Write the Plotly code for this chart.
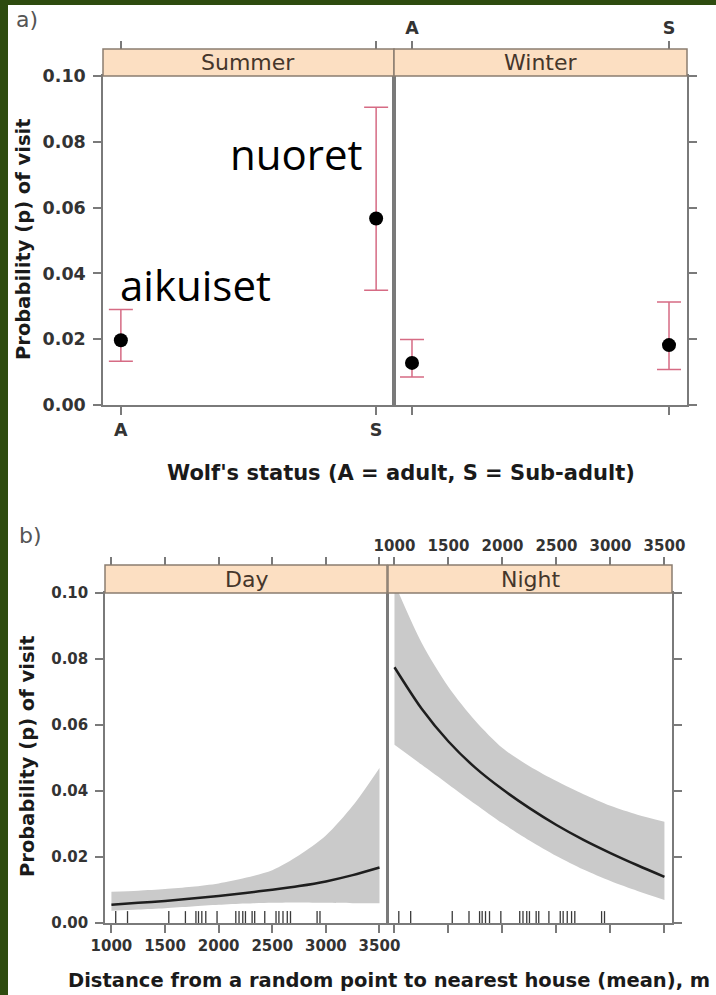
import plotly.graph_objects as go

W, H = 716, 995
def px(x): return x / W
def py(y): return 1 - y / H

# ---------------- data: panel a ----------------
status = ['A', 'S']
summer_p = [0.0197, 0.0567]
summer_lo = [0.0133, 0.0349]
summer_hi = [0.0290, 0.0905]
winter_p = [0.0128, 0.0182]
winter_lo = [0.0085, 0.0108]
winter_hi = [0.0199, 0.0313]

# ---------------- data: panel b ----------------
distance = [1000, 1250, 1500, 1750, 2000, 2250, 2500, 2750, 3000, 3250, 3500]
day_fit = [0.0055, 0.0061, 0.0067, 0.0074, 0.0082, 0.0091, 0.0101, 0.0112, 0.0126, 0.0145, 0.0168]
day_upper = [0.0095, 0.0098, 0.0103, 0.0110, 0.0120, 0.0137, 0.0160, 0.0205, 0.0265, 0.0355, 0.0470]
day_lower = [0.0037, 0.0041, 0.0045, 0.0050, 0.0055, 0.0059, 0.0061, 0.0062, 0.0061, 0.0060, 0.0060]
night_fit = [0.0775, 0.0650, 0.0550, 0.0470, 0.0405, 0.0348, 0.0297, 0.0252, 0.0212, 0.0175, 0.0140]
night_upper = [0.1030, 0.0850, 0.0715, 0.0612, 0.0530, 0.0475, 0.0430, 0.0390, 0.0355, 0.0328, 0.0307]
night_lower = [0.0540, 0.0480, 0.0420, 0.0360, 0.0302, 0.0250, 0.0203, 0.0162, 0.0127, 0.0097, 0.0070]
rug_distance = [1040, 1150, 1535, 1690, 1788, 1812, 1843, 1880, 1985, 2160, 2190, 2225,
                2250, 2312, 2336, 2430, 2535, 2562, 2600, 2640, 2670, 2918, 2945]
rug_height = [0.0, 0.0036]

prob_ticks = [0.00, 0.02, 0.04, 0.06, 0.08, 0.10]
dist_ticks = [1000, 1500, 2000, 2500, 3000, 3500]

# ---------------- styles ----------------
AX = '#7a7a7a'
ERR = '#d66b84'
BAND = '#cacaca'
FONT = 'DejaVu Sans'
tick_a = dict(family=FONT, size=17.5, color='#333333', weight='bold')
tick_b = dict(family=FONT, size=15, color='#333333', weight='bold')

fig = go.Figure()

def points(xa, ya, p, lo, hi):
    fig.add_trace(go.Scatter(
        x=status, y=p, xaxis=xa, yaxis=ya, mode='markers',
        marker=dict(size=14, color='black'),
        error_y=dict(type='data', symmetric=False,
                     array=[h - v for h, v in zip(hi, p)],
                     arrayminus=[v - l for v, l in zip(p, lo)],
                     color=ERR, thickness=1.5, width=12),
        showlegend=False, hoverinfo='x+y'))

points('x', 'y', summer_p, summer_lo, summer_hi)
points('x2', 'y2', winter_p, winter_lo, winter_hi)

def curve(xa, ya, fit, lo, hi):
    fig.add_trace(go.Scatter(
        x=distance, y=lo, xaxis=xa, yaxis=ya, mode='lines',
        line=dict(width=0, shape='spline', smoothing=0.8),
        showlegend=False, hoverinfo='skip'))
    fig.add_trace(go.Scatter(
        x=distance, y=hi, xaxis=xa, yaxis=ya, mode='lines', fill='tonexty',
        fillcolor=BAND, line=dict(width=0, shape='spline', smoothing=0.8),
        showlegend=False, hoverinfo='skip'))
    fig.add_trace(go.Scatter(
        x=distance, y=fit, xaxis=xa, yaxis=ya, mode='lines',
        line=dict(color='#1e1e1e', width=2.5, shape='spline', smoothing=0.8),
        showlegend=False))
    rx, ry = [], []
    for d in rug_distance:
        rx += [d, d, None]
        ry += [rug_height[0], rug_height[1], None]
    fig.add_trace(go.Scatter(
        x=rx, y=ry, xaxis=xa, yaxis=ya, mode='lines',
        line=dict(color='#3a3a3a', width=1.3), showlegend=False, hoverinfo='skip'))

curve('x3', 'y3', day_fit, day_lower, day_upper)
curve('x4', 'y4', night_fit, night_lower, night_upper)

# empty traces so the top overlay axes get drawn
for xa, ya, xs in [('x5', 'y', status), ('x6', 'y2', status),
                   ('x7', 'y3', dist_ticks[:2]), ('x8', 'y4', dist_ticks[:2])]:
    fig.add_trace(go.Scatter(x=xs, y=[None] * len(xs), xaxis=xa, yaxis=ya,
                             mode='markers', showlegend=False, hoverinfo='skip'))

common = dict(showgrid=False, zeroline=False, ticks='outside', ticklen=8,
              tickcolor=AX, tickwidth=1.5, linecolor=AX, linewidth=1.5, automargin=False)

a_dom_y = [py(405), py(76)]
b_dom_y = [py(923), py(593)]
cat_range = [-0.07, 1.07]
dist_range = [940, 3570]

layout = dict(
    width=W, height=H, margin=dict(l=0, r=0, t=0, b=0, pad=0, autoexpand=False),
    paper_bgcolor='white', plot_bgcolor='white',
    xaxis=dict(domain=[px(103), px(394)], anchor='y', type='category', range=cat_range,
               showline=True, mirror=True, tickfont=tick_a, **common),
    yaxis=dict(domain=a_dom_y, anchor='x', range=[0, 0.1], tickvals=prob_ticks,
               tickformat='.2f', showline=True, mirror=True, tickfont=tick_a,
               ticklabelstandoff=4, **common),
    xaxis2=dict(domain=[px(394), px(687)], anchor='y2', type='category', range=cat_range,
                showline=True, mirror=True, showticklabels=False, **common),
    yaxis2=dict(domain=a_dom_y, anchor='x2', side='right', range=[0, 0.1],
                tickvals=prob_ticks, showline=True, mirror=True, showticklabels=False, **common),
    xaxis3=dict(domain=[px(105), px(387)], anchor='y3', range=dist_range, tickvals=dist_ticks,
                showline=True, mirror=True, tickfont=tick_b, **common),
    yaxis3=dict(domain=b_dom_y, anchor='x3', range=[0, 0.1], tickvals=prob_ticks,
                tickformat='.2f', showline=True, mirror=True, tickfont=tick_b,
                ticklabelstandoff=4, **common),
    xaxis4=dict(domain=[px(388), px(672)], anchor='y4', range=dist_range, tickvals=dist_ticks,
                showline=True, mirror=True, showticklabels=False, **common),
    yaxis4=dict(domain=b_dom_y, anchor='x4', side='right', range=[0, 0.1],
                tickvals=prob_ticks, showline=True, mirror=True, showticklabels=False, **common),
    xaxis5=dict(overlaying='x', side='top', anchor='free', position=py(49), type='category',
                range=cat_range, showline=False, showticklabels=False, **common),
    xaxis6=dict(overlaying='x2', side='top', anchor='free', position=py(49), type='category',
                range=cat_range, showline=False, tickfont=tick_a, **common),
    xaxis7=dict(overlaying='x3', side='top', anchor='free', position=py(565),
                range=dist_range, tickvals=dist_ticks, showline=False,
                showticklabels=False, **common),
    xaxis8=dict(overlaying='x4', side='top', anchor='free', position=py(565),
                range=dist_range, tickvals=dist_ticks, showline=False, tickfont=tick_b, **common),
)
fig.update_layout(**layout)

shapes = [
    dict(type='rect', xref='paper', yref='paper', x0=0, x1=px(8), y0=0, y1=1,
         fillcolor='#2e4b0f', line=dict(width=0)),
    dict(type='rect', xref='paper', yref='paper', x0=0, x1=1, y0=py(5), y1=1,
         fillcolor='#2e4b0f', line=dict(width=0)),
]
strip_fill = '#fcdfc2'
strip_line = '#8a7d70'
strips = [(103, 394, 49, 76, 'Summer'), (394, 687, 49, 76, 'Winter'),
          (105, 387, 565, 593, 'Day'), (388, 672, 565, 593, 'Night')]
annotations = []
for x0, x1, y0, y1, label in strips:
    shapes.append(dict(type='rect', xref='paper', yref='paper', x0=px(x0), x1=px(x1),
                       y0=py(y1), y1=py(y0), fillcolor=strip_fill,
                       line=dict(color=strip_line, width=1.5)))
    annotations.append(dict(x=px((x0 + x1) / 2), y=py((y0 + y1) / 2), xref='paper', yref='paper',
                            text=label, showarrow=False, xanchor='center', yanchor='middle',
                            font=dict(family=FONT, size=22, color='#45362b')))

def note(x, y, text, size, weight='normal', angle=0, xanchor='center', color='#1a1a1a', family=FONT):
    annotations.append(dict(x=px(x), y=py(y), xref='paper', yref='paper', text=text,
                            showarrow=False, xanchor=xanchor, yanchor='middle', textangle=angle,
                            font=dict(family=family, size=size, color=color, weight=weight)))

note(14, 20, 'a)', 22, xanchor='left', color='#555555')
note(17, 535, 'b)', 22, xanchor='left', color='#555555')
note(23, 239, 'Probability (p) of visit', 19.5, weight='bold', angle=-90)
note(27, 756, 'Probability (p) of visit', 19.5, weight='bold', angle=-90)
note(401, 473, "Wolf's status (A = adult, S = Sub-adult)", 21, weight='bold')
note(389, 980, 'Distance from a random point to nearest house (mean), m', 19.5, weight='bold')
note(228, 153, 'nuoret', 42, xanchor='left', color='black', family='Open Sans')
note(118, 284, 'aikuiset', 42, xanchor='left', color='black', family='Open Sans')

fig.update_layout(shapes=shapes, annotations=annotations)
fig.write_html('out.html', config={'displayModeBar': False},
               post_script="document.body.style.margin='0px';document.body.style.overflow='hidden';")
